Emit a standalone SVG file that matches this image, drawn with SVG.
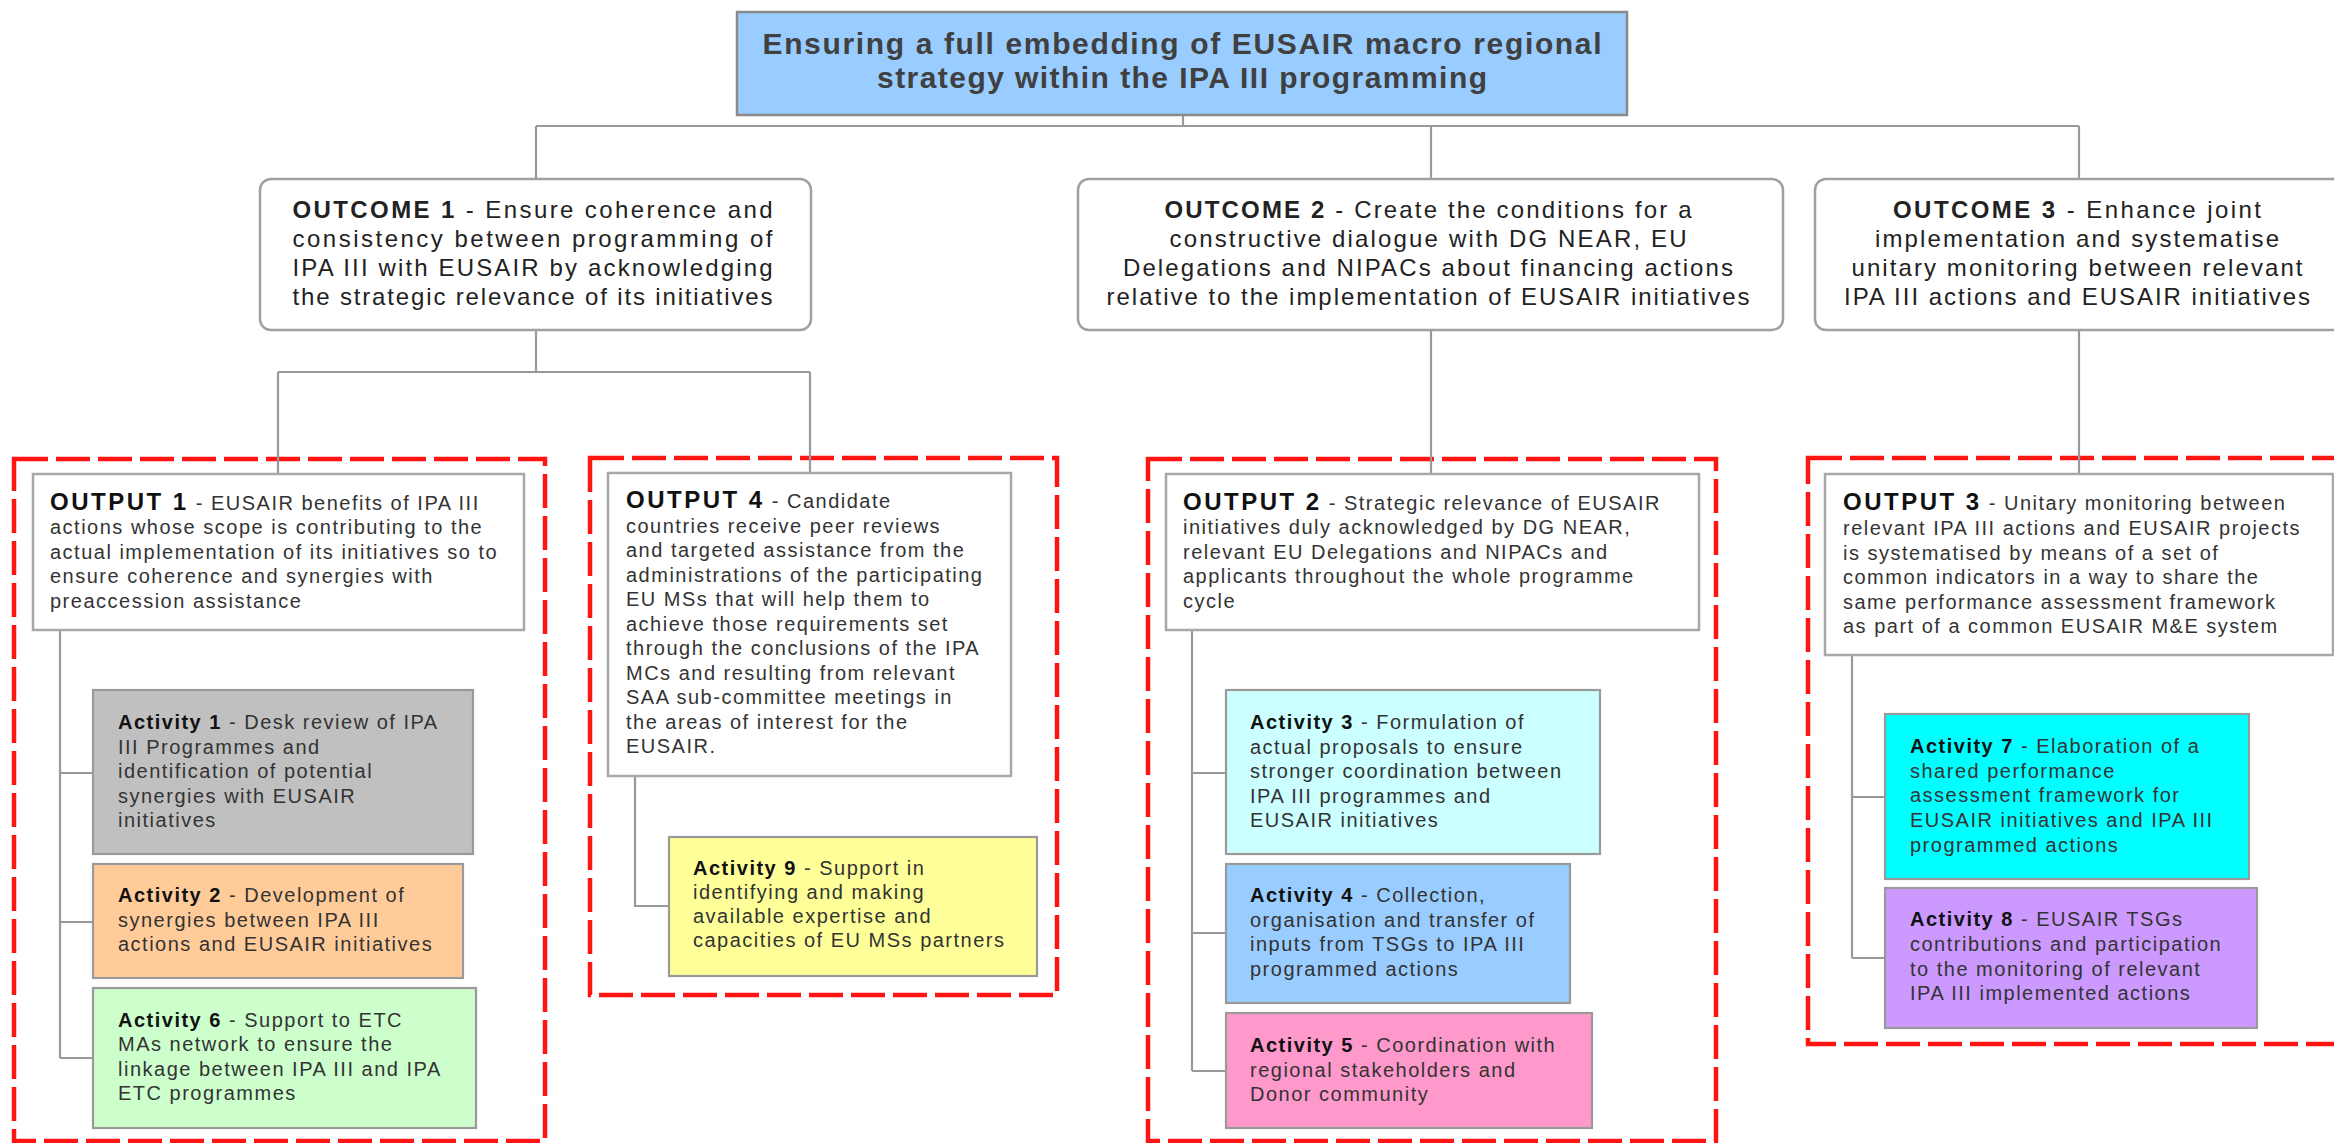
<svg xmlns="http://www.w3.org/2000/svg" width="2334" height="1143" viewBox="0 0 2334 1143">
<style>
.t{font-family:"Liberation Sans",Arial,sans-serif;font-size:20px;letter-spacing:1.5px;fill:#333}
.b{font-weight:bold;fill:#111}
.ob{font-size:24px;letter-spacing:2.5px}
.oc{font-family:"Liberation Sans",Arial,sans-serif;font-size:24px;fill:#222}
.ttl{font-family:"Liberation Sans",Arial,sans-serif;font-size:30px;font-weight:bold;fill:#404040}
.conn{stroke:#999;stroke-width:2.2;fill:none}
.grp{stroke:#ff1414;stroke-width:4.5;stroke-dasharray:34 8;fill:none}
.outcome{fill:#fff;stroke:#a0a0a0;stroke-width:2.5}
.output{fill:#fff;stroke:#a8a8a8;stroke-width:2.5}
.act{stroke:#9a9a9a;stroke-width:2.2}
</style>

<g id="groups">
<rect class="grp" x="14" y="459" width="531" height="682"/>
<rect class="grp" x="590" y="458" width="467" height="537"/>
<rect class="grp" x="1148" y="459" width="568" height="682"/>
<rect class="grp" x="1808" y="458" width="540" height="586"/>
</g>

<g id="connectors">
<path class="conn" d="M1183 115V126M536 126H2079M536 126V179M1431 126V179M2079 126V179"/>
<path class="conn" d="M536 330V372M278 372H810M278 372V474M810 372V474"/>
<path class="conn" d="M1431 330V474M2079 330V474"/>
<path class="conn" d="M60 630V1058M60 773H93M60 922H93M60 1058H93"/>
<path class="conn" d="M635 776V906H669"/>
<path class="conn" d="M1192 630V1071M1192 773H1226M1192 933H1226M1192 1071H1226"/>
<path class="conn" d="M1852 655V958M1852 797H1885M1852 958H1885"/>
</g>

<g id="goal">
<rect x="737" y="12" width="890" height="103" fill="#99ccff" stroke="#8a8a8a" stroke-width="2.5"/>
<text class="ttl" x="1182" y="54" text-anchor="middle" textLength="839" lengthAdjust="spacing">Ensuring a full embedding of EUSAIR macro regional</text>
<text class="ttl" x="1182" y="88" text-anchor="middle" textLength="610" lengthAdjust="spacing">strategy within the IPA III programming</text>
</g>

<g id="outcome1">
<rect class="outcome" x="260" y="179" width="551" height="151" rx="11"/>
<text class="oc" x="292.5" y="218" textLength="480" lengthAdjust="spacing"><tspan font-weight="bold">OUTCOME 1</tspan> - Ensure coherence and</text>
<text class="oc" x="292.5" y="247" textLength="480" lengthAdjust="spacing">consistency between  programming of</text>
<text class="oc" x="292.5" y="276" textLength="480" lengthAdjust="spacing">IPA III with EUSAIR by acknowledging</text>
<text class="oc" x="292.5" y="305" textLength="480" lengthAdjust="spacing">the strategic relevance of its initiatives</text>
</g>

<g id="outcome2">
<rect class="outcome" x="1078" y="179" width="705" height="151" rx="11"/>
<text class="oc" x="1428" y="218" text-anchor="middle" textLength="527" lengthAdjust="spacing"><tspan font-weight="bold">OUTCOME 2</tspan> - Create the conditions for a</text>
<text class="oc" x="1428" y="247" text-anchor="middle" textLength="517" lengthAdjust="spacing">constructive dialogue with DG NEAR, EU</text>
<text class="oc" x="1428" y="276" text-anchor="middle" textLength="610" lengthAdjust="spacing">Delegations and NIPACs about financing actions</text>
<text class="oc" x="1428" y="305" text-anchor="middle" textLength="643" lengthAdjust="spacing">relative to the implementation of EUSAIR initiatives</text>
</g>

<g id="outcome3">
<rect class="outcome" x="1815" y="179" width="540" height="151" rx="11"/>
<text class="oc" x="2077" y="218" text-anchor="middle" textLength="368" lengthAdjust="spacing"><tspan font-weight="bold">OUTCOME 3</tspan> - Enhance joint</text>
<text class="oc" x="2077" y="247" text-anchor="middle" textLength="404" lengthAdjust="spacing">implementation and systematise</text>
<text class="oc" x="2077" y="276" text-anchor="middle" textLength="451" lengthAdjust="spacing">unitary monitoring between relevant</text>
<text class="oc" x="2077" y="305" text-anchor="middle" textLength="466" lengthAdjust="spacing">IPA III actions and EUSAIR initiatives</text>
</g>

<g id="output1">
<rect class="output" x="33" y="474" width="491" height="156"/>
<text class="t" x="50" y="509.5"><tspan class="b ob">OUTPUT 1</tspan> - EUSAIR benefits of IPA III</text>
<text class="t" x="50" y="534">actions whose scope is contributing to the</text>
<text class="t" x="50" y="558.5">actual implementation of its initiatives so to</text>
<text class="t" x="50" y="583">ensure coherence and synergies with</text>
<text class="t" x="50" y="607.5">preaccession assistance</text>
</g>

<g id="output4">
<rect class="output" x="608" y="473" width="403" height="303"/>
<text class="t" x="626" y="508.4"><tspan class="b ob">OUTPUT 4</tspan> - Candidate</text>
<text class="t" x="626" y="532.9">countries receive peer reviews</text>
<text class="t" x="626" y="557.4">and targeted assistance from the</text>
<text class="t" x="626" y="581.9">administrations of the participating</text>
<text class="t" x="626" y="606.4">EU MSs that will help them to</text>
<text class="t" x="626" y="630.9">achieve those requirements set</text>
<text class="t" x="626" y="655.4">through the conclusions of the IPA</text>
<text class="t" x="626" y="679.9">MCs and resulting from relevant</text>
<text class="t" x="626" y="704.4">SAA sub-committee meetings in</text>
<text class="t" x="626" y="728.9">the areas of interest for the</text>
<text class="t" x="626" y="753.4">EUSAIR.</text>
</g>

<g id="output2">
<rect class="output" x="1166" y="474" width="533" height="156"/>
<text class="t" x="1183" y="509.5"><tspan class="b ob">OUTPUT 2</tspan> - Strategic relevance of EUSAIR</text>
<text class="t" x="1183" y="534">initiatives duly acknowledged by DG NEAR,</text>
<text class="t" x="1183" y="558.5">relevant EU Delegations and NIPACs and</text>
<text class="t" x="1183" y="583">applicants throughout the whole programme</text>
<text class="t" x="1183" y="607.5">cycle</text>
</g>

<g id="output3">
<rect class="output" x="1825" y="474" width="508" height="181"/>
<text class="t" x="1843" y="510.4"><tspan class="b ob">OUTPUT 3</tspan> - Unitary monitoring between</text>
<text class="t" x="1843" y="535">relevant IPA III actions and EUSAIR projects</text>
<text class="t" x="1843" y="559.6">is systematised by means of a set of</text>
<text class="t" x="1843" y="584.2">common indicators in a way to  share the</text>
<text class="t" x="1843" y="608.8">same performance assessment framework</text>
<text class="t" x="1843" y="633.4">as part of a common EUSAIR M&amp;E system</text>
</g>

<g id="activity1">
<rect class="act" x="93" y="690" width="380" height="164" fill="#c0c0c0"/>
<text class="t" x="118" y="729"><tspan class="b">Activity 1</tspan> - Desk review of IPA</text>
<text class="t" x="118" y="753.5">III Programmes and</text>
<text class="t" x="118" y="778">identification of potential</text>
<text class="t" x="118" y="802.5">synergies with EUSAIR</text>
<text class="t" x="118" y="827">initiatives</text>
</g>

<g id="activity2">
<rect class="act" x="93" y="864" width="370" height="114" fill="#ffcc99"/>
<text class="t" x="118" y="902"><tspan class="b">Activity 2</tspan> - Development of</text>
<text class="t" x="118" y="926.5">synergies between IPA III</text>
<text class="t" x="118" y="951">actions and EUSAIR initiatives</text>
</g>

<g id="activity6">
<rect class="act" x="93" y="988" width="383" height="140" fill="#ccffcc"/>
<text class="t" x="118" y="1026.5"><tspan class="b">Activity 6</tspan> - Support to ETC</text>
<text class="t" x="118" y="1051">MAs network to ensure the</text>
<text class="t" x="118" y="1075.5">linkage between IPA III and IPA</text>
<text class="t" x="118" y="1100">ETC programmes</text>
</g>

<g id="activity9">
<rect class="act" x="669" y="837" width="368" height="139" fill="#ffff99"/>
<text class="t" x="693" y="874.7"><tspan class="b">Activity 9</tspan> - Support in</text>
<text class="t" x="693" y="898.8">identifying and making</text>
<text class="t" x="693" y="922.9">available expertise and</text>
<text class="t" x="693" y="947">capacities of EU MSs partners</text>
</g>

<g id="activity3">
<rect class="act" x="1226" y="690" width="374" height="164" fill="#ccffff"/>
<text class="t" x="1250" y="729"><tspan class="b">Activity 3</tspan> - Formulation of</text>
<text class="t" x="1250" y="753.5">actual proposals to ensure</text>
<text class="t" x="1250" y="778">stronger coordination between</text>
<text class="t" x="1250" y="802.5">IPA III programmes and</text>
<text class="t" x="1250" y="827">EUSAIR initiatives</text>
</g>

<g id="activity4">
<rect class="act" x="1226" y="864" width="344" height="139" fill="#99ccff"/>
<text class="t" x="1250" y="902"><tspan class="b">Activity 4</tspan> - Collection,</text>
<text class="t" x="1250" y="926.5">organisation and transfer of</text>
<text class="t" x="1250" y="951">inputs from TSGs to IPA III</text>
<text class="t" x="1250" y="975.5">programmed actions</text>
</g>

<g id="activity5">
<rect class="act" x="1226" y="1013" width="366" height="115" fill="#ff99cc"/>
<text class="t" x="1250" y="1052"><tspan class="b">Activity 5</tspan> - Coordination with</text>
<text class="t" x="1250" y="1076.5">regional stakeholders and</text>
<text class="t" x="1250" y="1101">Donor community</text>
</g>

<g id="activity7">
<rect class="act" x="1885" y="714" width="364" height="165" fill="#00ffff"/>
<text class="t" x="1910" y="753.2"><tspan class="b">Activity 7</tspan> - Elaboration of a</text>
<text class="t" x="1910" y="777.8">shared performance</text>
<text class="t" x="1910" y="802.4">assessment framework for</text>
<text class="t" x="1910" y="827">EUSAIR initiatives and IPA III</text>
<text class="t" x="1910" y="851.6">programmed actions</text>
</g>

<g id="activity8">
<rect class="act" x="1885" y="888" width="372" height="140" fill="#cc99ff"/>
<text class="t" x="1910" y="926.4"><tspan class="b">Activity 8</tspan> - EUSAIR TSGs</text>
<text class="t" x="1910" y="951">contributions and participation</text>
<text class="t" x="1910" y="975.6">to the monitoring of relevant</text>
<text class="t" x="1910" y="1000.2">IPA III implemented actions</text>
</g>
</svg>
